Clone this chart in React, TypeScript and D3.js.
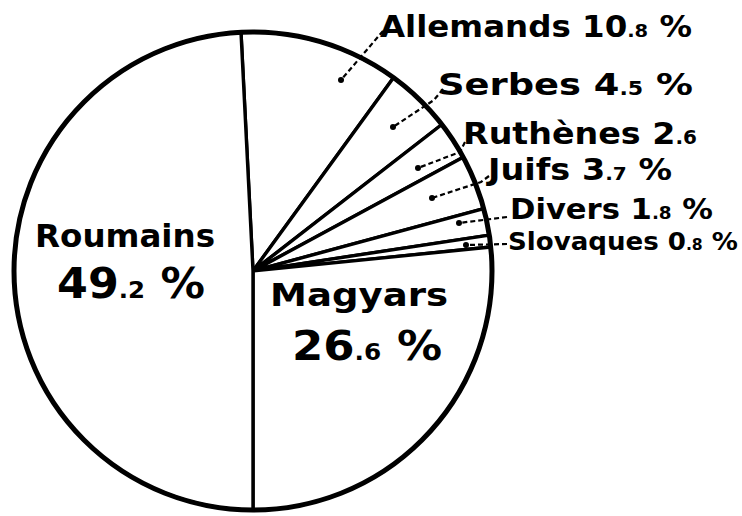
import React from "react";
import * as d3 from "d3";

// ---- data ----
const categories = ["Allemands", "Serbes", "Ruthènes", "Juifs", "Divers", "Slovaques", "Magyars", "Roumains"];
const values = [10.8, 4.5, 2.6, 3.7, 1.8, 0.8, 26.6, 49.2];
const showPercent = [true, true, false, true, true, true, true, true];

// ---- layout (positions / sizes of annotations) ----
type Lay = {
  x: number; y: number; size: number; width: number;
  twoLine?: boolean; x2?: number; y2?: number; size2?: number; width2?: number;
  leader?: [number, number][];
};
const layout: Record<string, Lay> = {
  Allemands: { x: 380, y: 37, size: 30, width: 312, leader: [[383, 31], [341, 80]] },
  Serbes: { x: 438, y: 95, size: 31, width: 255, leader: [[443, 89], [434, 100], [393, 127]] },
  "Ruthènes": { x: 463, y: 144, size: 31, width: 234, leader: [[465, 142], [460, 152], [418, 168]] },
  Juifs: { x: 488, y: 180, size: 30, width: 184, leader: [[489, 176], [481, 182], [432, 198]] },
  Divers: { x: 510, y: 219, size: 28, width: 203, leader: [[507, 217], [459, 223]] },
  Slovaques: { x: 508, y: 250, size: 25, width: 230, leader: [[507, 244], [466, 245]] },
  Magyars: { x: 270, y: 306, size: 32, width: 178, twoLine: true, x2: 292, y2: 360, size2: 41, width2: 150 },
  Roumains: { x: 35, y: 247, size: 32, width: 180, twoLine: true, x2: 57, y2: 298, size2: 42, width2: 148 },
};

const FONT = "'DejaVu Sans', 'Liberation Sans', sans-serif";

function splitNum(v: number) {
  const s = v.toFixed(1);
  const [i, d] = s.split(".");
  return { i, d };
}

export default function App() {
  const cx = 253, cy = 271, r = 239;
  const total = d3.sum(values);
  const start = Math.PI - (2 * Math.PI * (total - values[values.length - 1])) / total;
  const pie = d3
    .pie<number>()
    .sort(null)
    .value((d) => d)
    .startAngle(start)
    .endAngle(start + 2 * Math.PI);
  const arcs = pie(values);
  const arcGen = d3.arc<d3.PieArcDatum<number>>().innerRadius(0).outerRadius(r);
  const line = d3.line();

  return (
    <svg
      width={742}
      height={516}
      viewBox="0 0 742 516"
      style={{ position: "absolute", left: 0, top: 0, background: "#fff" }}
    >
      <rect width={742} height={516} fill="#fff" />
      <g transform={`translate(${cx},${cy})`}>
        {arcs.map((a, k) => (
          <path key={k} d={arcGen(a) || ""} fill="#fff" stroke="#000" strokeWidth={3.4} strokeLinejoin="round" />
        ))}
        <circle r={r} fill="none" stroke="#000" strokeWidth={5} />
      </g>

      {categories.map((c, k) => {
        const L = layout[c];
        const { i, d } = splitNum(values[k]);
        const pct = showPercent[k];
        if (L.twoLine) {
          const s2 = L.size2!;
          return (
            <g key={c} fontFamily={FONT} fontWeight="bold" fill="#000">
              <text x={L.x} y={L.y} fontSize={L.size} textLength={L.width} lengthAdjust="spacingAndGlyphs">
                {c}
              </text>
              <text x={L.x2} y={L.y2} fontSize={s2} textLength={L.width2} lengthAdjust="spacingAndGlyphs">
                <tspan>{i}</tspan>
                <tspan fontSize={s2 * 0.55}>.{d}</tspan>
                {pct ? <tspan> %</tspan> : null}
              </text>
            </g>
          );
        }
        return (
          <g key={c} fontFamily={FONT} fontWeight="bold" fill="#000">
            <text x={L.x} y={L.y} fontSize={L.size} textLength={L.width} lengthAdjust="spacingAndGlyphs">
              <tspan>{c} </tspan>
              <tspan>{i}</tspan>
              <tspan fontSize={L.size * 0.6}>.{d}</tspan>
              {pct ? <tspan> %</tspan> : null}
            </text>
            {L.leader ? (
              <g>
                <path d={line(L.leader) || ""} fill="none" stroke="#000" strokeWidth={2.2} strokeDasharray="5 3" />
                <circle
                  cx={L.leader[L.leader.length - 1][0]}
                  cy={L.leader[L.leader.length - 1][1]}
                  r={3}
                  fill="#000"
                />
              </g>
            ) : null}
          </g>
        );
      })}
    </svg>
  );
}
